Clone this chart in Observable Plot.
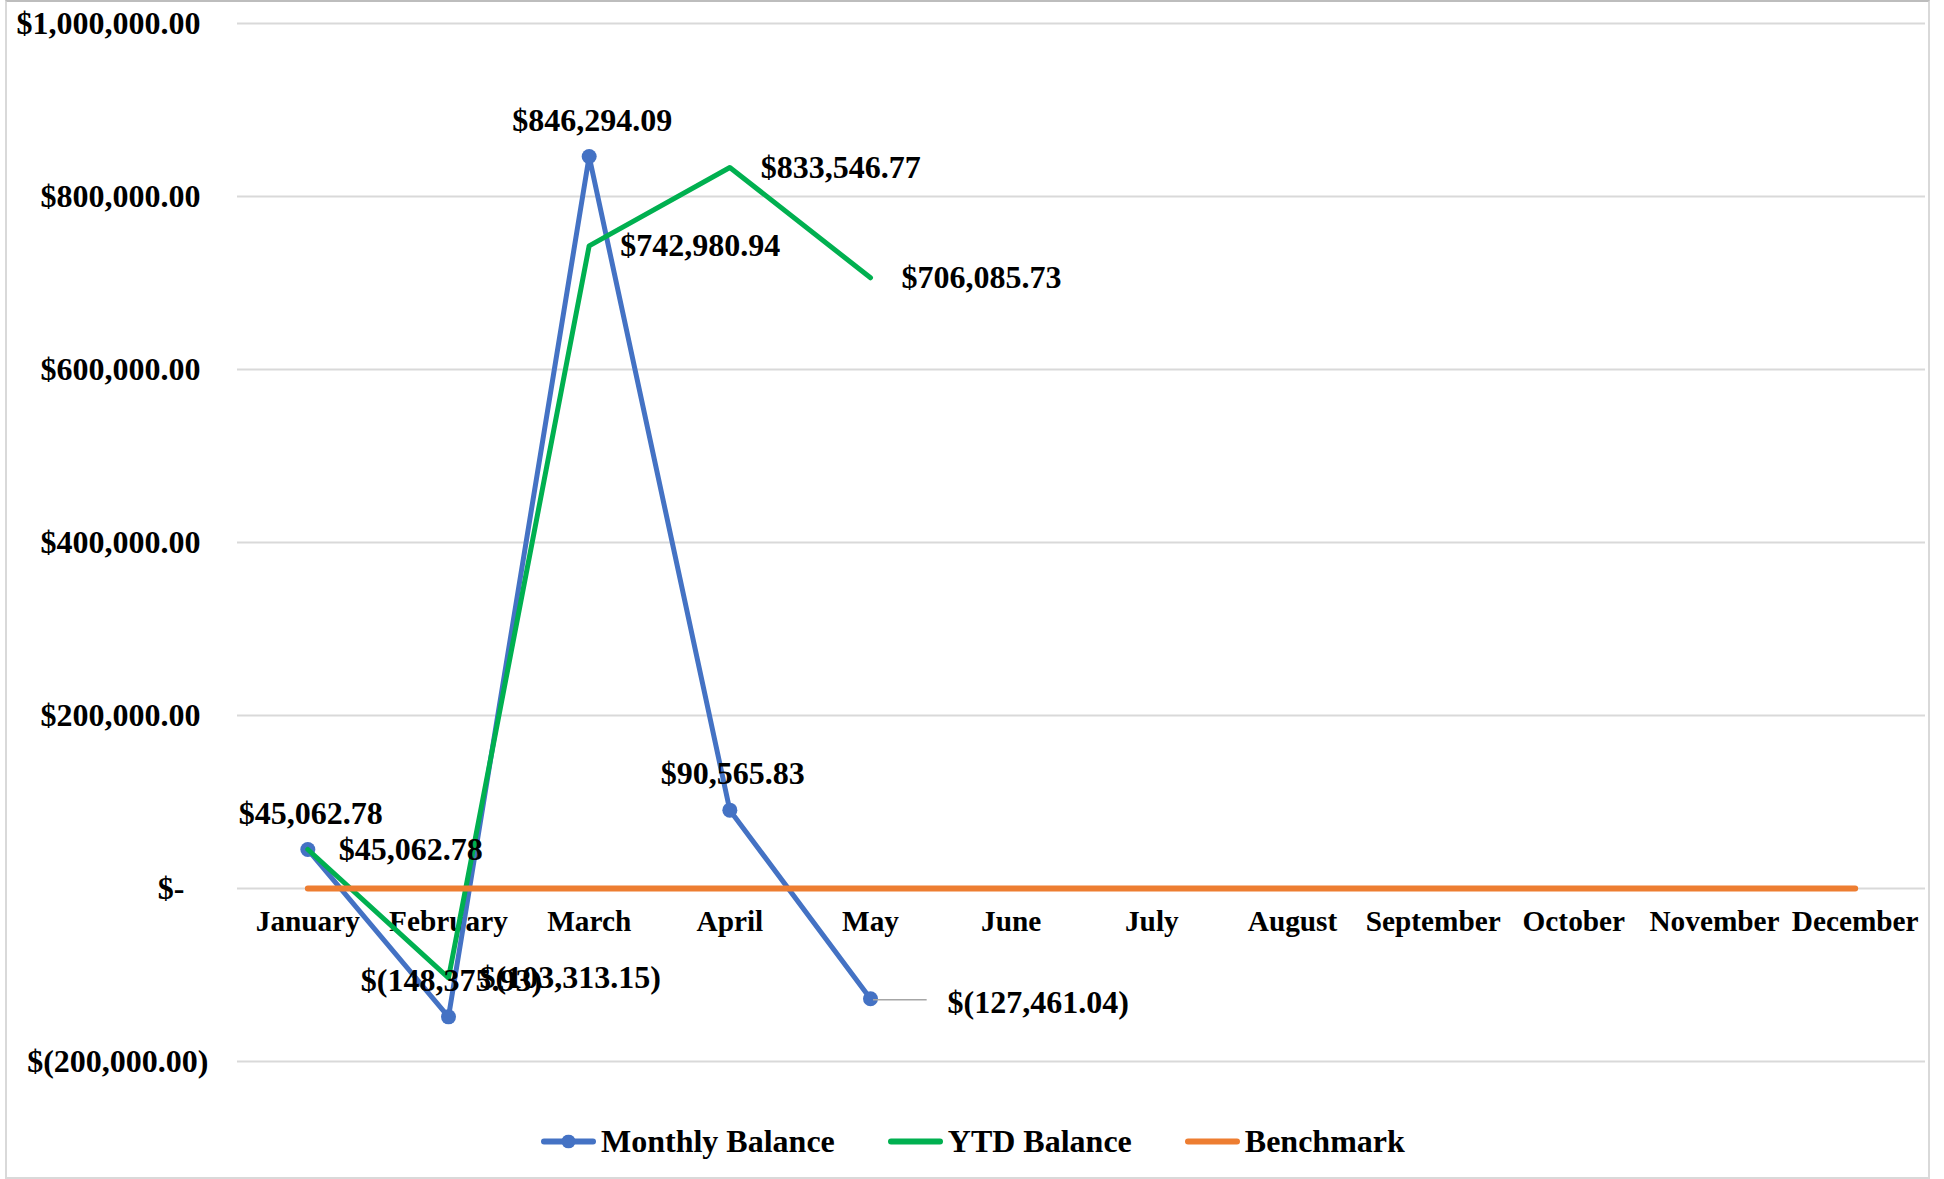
<!DOCTYPE html>
<html><head><meta charset="utf-8">
<script src="https://cdn.jsdelivr.net/npm/d3@7"></script>
<script src="https://cdn.jsdelivr.net/npm/@observablehq/plot@0.6"></script>
<style>
html,body{margin:0;padding:0;background:#fff;}
#wrap{position:relative;width:1944px;height:1179px;overflow:hidden;font-family:"Liberation Serif","Times New Roman",serif;font-weight:bold;background:#fff;}
#chart{position:absolute;left:0;top:0;}
#frame{position:absolute;left:5px;top:0;width:1921px;height:1175px;border:2px solid #D9D9D9;border-top-color:#BDBDBD;pointer-events:none;}
#legend{position:absolute;top:1141px;left:541px;transform:translateY(-50%);display:flex;align-items:center;font-size:32px;color:#000;white-space:nowrap;}
.item{display:flex;align-items:center;margin-right:53px;}
.item svg{margin-right:5px;display:block;}
</style></head><body>
<div id="wrap"><div id="chart"></div><div id="frame"></div><div id="legend"></div></div>
<script>
const months = ["January","February","March","April","May","June","July","August","September","October","November","December"];
const monthlyBalance = [45062.78, -148375.93, 846294.09, 90565.83, -127461.04];
const ytdBalance = [45062.78, -103313.15, 742980.94, 833546.77, 706085.73];
const benchmark = [0,0,0,0,0,0,0,0,0,0,0,0];
const yTicks = [-200000, 0, 200000, 400000, 600000, 800000, 1000000];
const seriesNames = ["Monthly Balance","YTD Balance","Benchmark"];
const seriesColors = ["#4472C4","#00B050","#ED7D31"];

const num = d3.format(",.2f");
const fmtLabel = v => v < 0 ? "$(" + num(-v) + ")" : "$" + num(v);
const fmtTick = v => v === 0 ? "$-\u00A0\u00A0\u00A0" : (v < 0 ? "$(" + num(-v) + ")" : "$" + num(v) + "\u00A0");

const monthly = monthlyBalance.map((v,i)=>({month: months[i], value: v}));
const ytd = ytdBalance.map((v,i)=>({month: months[i], value: v}));
const bench = benchmark.map((v,i)=>({month: months[i], value: v}));
const lastMonthly = monthly[monthly.length-1];

const FONT = '"Liberation Serif","Times New Roman",serif';
const txt = {fontSize: 32, fontWeight: "bold", fontFamily: FONT, fill: "#000"};

const chart = Plot.plot({
  width: 1944, height: 1179,
  marginTop: 23, marginLeft: 237, marginRight: 19, marginBottom: 118,
  style: {fontFamily: FONT, fontWeight: "bold", background: "transparent", color: "#000", overflow: "visible"},
  x: {type: "point", domain: months, padding: 0.5, round: false, axis: null},
  y: {domain: [-200000, 1000000]},
  marks: [
    Plot.gridY(yTicks, {stroke: "#D9D9D9", strokeOpacity: 1, strokeWidth: 2}),
    Plot.axisY(yTicks, {tickFormat: fmtTick, tickSize: 0, tickPadding: 29, fontSize: 32, fontWeight: "bold", fill: "#000", label: null}),
    Plot.text(months, {x: d => d, y: () => 0, dy: 33.5, text: d => d, fontSize: 29.3, fontWeight: "bold", fontFamily: FONT, fill: "#000"}),
    Plot.line(monthly, {x: "month", y: "value", stroke: seriesColors[0], strokeWidth: 5, strokeLinejoin: "round", strokeLinecap: "round"}),
    Plot.dot(monthly, {x: "month", y: "value", r: 7.5, fill: seriesColors[0], stroke: "none"}),
    Plot.line(ytd, {x: "month", y: "value", stroke: seriesColors[1], strokeWidth: 5, strokeLinejoin: "round", strokeLinecap: "round"}),
    Plot.line(bench, {x: "month", y: "value", stroke: seriesColors[2], strokeWidth: 6, strokeLinejoin: "round", strokeLinecap: "round"}),
    Plot.ruleY([lastMonthly], {y: "value", x1: () => lastMonthly.month, x2: () => months[monthly.length], insetLeft: 3, insetRight: 84, dy: 1, stroke: "#A6A6A6", strokeWidth: 1.5}),
    Plot.text(monthly, {filter: d => d !== lastMonthly, x: "month", y: "value", text: d => fmtLabel(d.value), dy: -36, dx: 3, ...txt}),
    Plot.text([lastMonthly], {x: "month", y: "value", text: d => fmtLabel(d.value), textAnchor: "start", dx: 77, dy: 4, ...txt}),
    Plot.text(ytd, {x: "month", y: "value", text: d => fmtLabel(d.value), textAnchor: "start", dx: 31, ...txt})
  ]
});
document.getElementById("chart").appendChild(chart);

const legend = document.getElementById("legend");
seriesNames.forEach((name, i) => {
  const item = document.createElement("div");
  item.className = "item";
  const marker = i === 0 ? `<circle cx="27.5" cy="7" r="7" fill="${seriesColors[i]}"/>` : "";
  item.innerHTML = `<svg width="55" height="14"><line x1="3" y1="7" x2="52" y2="7" stroke="${seriesColors[i]}" stroke-width="6" stroke-linecap="round"/>${marker}</svg><span>${name}</span>`;
  if (i === seriesNames.length - 1) item.style.marginRight = "0";
  legend.appendChild(item);
});
</script>
</body></html>
